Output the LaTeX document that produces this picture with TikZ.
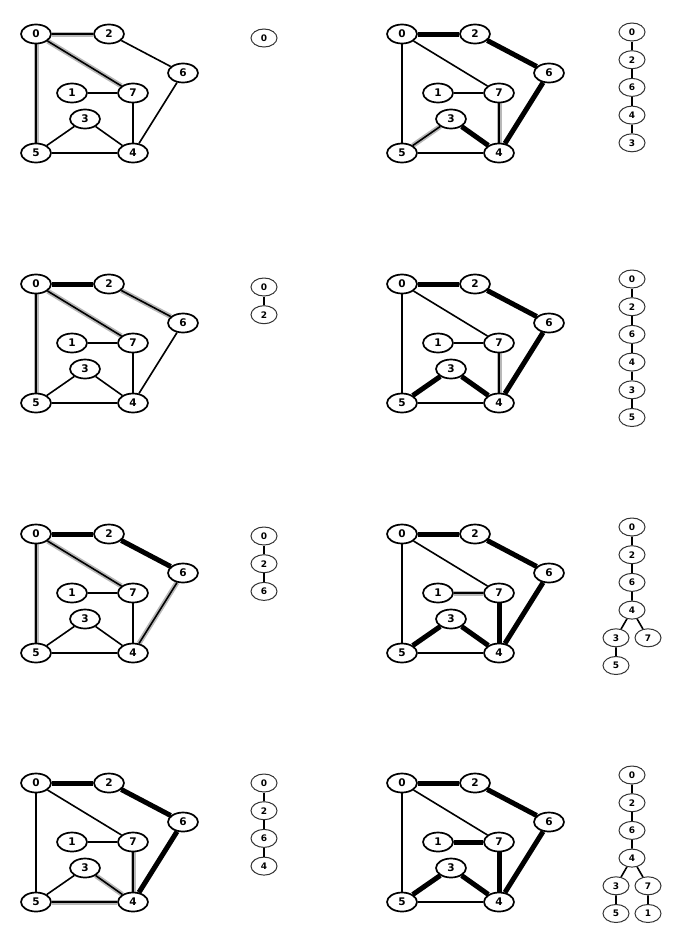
\documentclass[tikz,border=0pt]{standalone}
\usepackage{fontspec}
\setsansfont{DejaVu Sans}
\usetikzlibrary{shapes.geometric,positioning,backgrounds}

\tikzset{
  vtx/.style={ellipse, draw, line width=1.7pt, fill=white, minimum width=30pt, minimum height=19pt,
    inner sep=0pt, font=\sffamily\bfseries\fontsize{10.5}{11}\selectfont},
  tnode/.style={ellipse, draw=black!80, line width=1pt, fill=white, minimum width=26pt, minimum height=18pt,
    inner sep=0pt, font=\sffamily\bfseries\fontsize{9}{10}\selectfont},
  link/.style={line width=1.6pt},
  treelink/.style={line width=5pt},
  checked/.style={line width=5pt, black!28},
  tlink/.style={line width=1.6pt},
}

% one graph of the trace: #1 name, #2 #3 place of vertex 0, #4 tree edges, #5 edges being checked
\newcommand{\dfsgraph}[5]{%
  \begin{scope}[shift={(#2,#3)}]
    \node[vtx] (#1-0) at (0,0) {0};
    \node[vtx] (#1-2) at (73,0) {2};
    \node[vtx] (#1-6) at (147,39) {6};
    \node[vtx] (#1-1) at (36,59) {1};
    \node[vtx] (#1-7) at (97,59) {7};
    \node[vtx] (#1-3) at (49,85) {3};
    \node[vtx] (#1-5) at (0,119) {5};
    \node[vtx] (#1-4) at (97,119) {4};
    \begin{pgfonlayer}{background}
      \if\relax\detokenize{#5}\relax\else
        \foreach \u/\v in {#5} {\draw[checked] (#1-\u) -- (#1-\v);}
      \fi
      \foreach \u/\v in {0/2,0/7,0/5,2/6,6/4,1/7,7/4,3/5,3/4,5/4} {\draw[link] (#1-\u) -- (#1-\v);}
      \if\relax\detokenize{#4}\relax\else
        \foreach \u/\v in {#4} {\draw[treelink] (#1-\u) -- (#1-\v);}
      \fi
    \end{pgfonlayer}
  \end{scope}}

\begin{document}
\begin{tikzpicture}[x=1pt, y=-1pt, node distance=27.7pt, on grid]
  \useasboundingbox (0,0) rectangle (676,935);

  % left column
  \dfsgraph{a}{36}{34}{}{0/2,0/7,0/5}
  \node[tnode] (a0) at (264,38) {0};

  \dfsgraph{b}{36}{284}{0/2}{2/6,0/7,0/5}
  \node[tnode] (b0) at (264,287) {0};
  \node[tnode, below=of b0] (b2) {2};
  \draw[tlink] (b0) -- (b2);

  \dfsgraph{c}{36}{534}{0/2,2/6}{6/4,0/7,0/5}
  \node[tnode] (c0) at (264,536) {0};
  \node[tnode, below=of c0] (c2) {2};
  \node[tnode, below=of c2] (c6) {6};
  \draw[tlink] (c0) -- (c2) (c2) -- (c6);

  \dfsgraph{d}{36}{783}{0/2,2/6,6/4}{4/3,4/5,4/7}
  \node[tnode] (d0) at (264,783) {0};
  \node[tnode, below=of d0] (d2) {2};
  \node[tnode, below=of d2] (d6) {6};
  \node[tnode, below=of d6] (d4) {4};
  \draw[tlink] (d0) -- (d2) (d2) -- (d6) (d6) -- (d4);

  % right column
  \dfsgraph{e}{402}{34}{0/2,2/6,6/4,4/3}{3/5,7/4}
  \node[tnode] (e0) at (632,32) {0};
  \node[tnode, below=of e0] (e2) {2};
  \node[tnode, below=of e2] (e6) {6};
  \node[tnode, below=of e6] (e4) {4};
  \node[tnode, below=of e4] (e3) {3};
  \draw[tlink] (e0) -- (e2) (e2) -- (e6) (e6) -- (e4) (e4) -- (e3);

  \dfsgraph{f}{402}{284}{0/2,2/6,6/4,4/3,3/5}{7/4}
  \node[tnode] (f0) at (632,279) {0};
  \node[tnode, below=of f0] (f2) {2};
  \node[tnode, below=of f2] (f6) {6};
  \node[tnode, below=of f6] (f4) {4};
  \node[tnode, below=of f4] (f3) {3};
  \node[tnode, below=of f3] (f5) {5};
  \draw[tlink] (f0) -- (f2) (f2) -- (f6) (f6) -- (f4) (f4) -- (f3) (f3) -- (f5);

  \dfsgraph{g}{402}{534}{0/2,2/6,6/4,4/3,3/5,4/7}{7/1}
  \node[tnode] (g0) at (632,527) {0};
  \node[tnode, below=of g0] (g2) {2};
  \node[tnode, below=of g2] (g6) {6};
  \node[tnode, below=of g6] (g4) {4};
  \node[tnode, below left=27.7pt and 16pt of g4] (g3) {3};
  \node[tnode, below right=27.7pt and 16pt of g4] (g7) {7};
  \node[tnode, below=of g3] (g5) {5};
  \draw[tlink] (g0) -- (g2) (g2) -- (g6) (g6) -- (g4) (g4) -- (g3) (g4) -- (g7) (g3) -- (g5);

  \dfsgraph{h}{402}{783}{0/2,2/6,6/4,4/3,3/5,4/7,7/1}{}
  \node[tnode] (h0) at (632,775) {0};
  \node[tnode, below=of h0] (h2) {2};
  \node[tnode, below=of h2] (h6) {6};
  \node[tnode, below=of h6] (h4) {4};
  \node[tnode, below left=27.7pt and 16pt of h4] (h3) {3};
  \node[tnode, below right=27.7pt and 16pt of h4] (h7) {7};
  \node[tnode, below=of h3] (h5) {5};
  \node[tnode, below=of h7] (h1) {1};
  \draw[tlink] (h0) -- (h2) (h2) -- (h6) (h6) -- (h4) (h4) -- (h3) (h4) -- (h7) (h3) -- (h5) (h7) -- (h1);
\end{tikzpicture}
\end{document}
